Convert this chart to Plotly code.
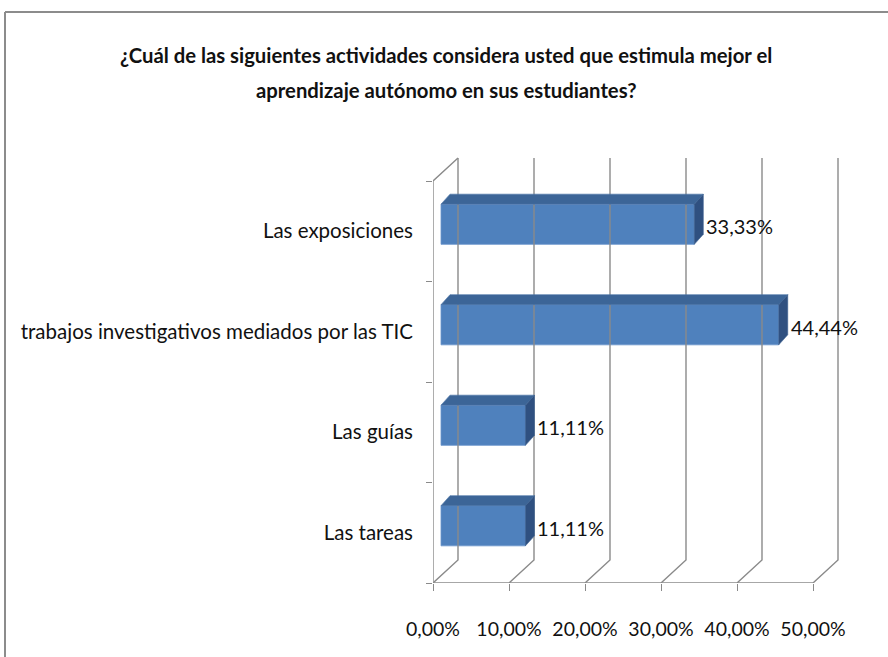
import plotly.graph_objects as go

# ---- data ----
categories = ["Las tareas", "Las guías", "trabajos investigativos mediados por las TIC", "Las exposiciones"]
values = [0.1111, 0.1111, 0.4444, 0.3333]
x_ticks = [0.0, 0.1, 0.2, 0.3, 0.4, 0.5]
title_lines = ["¿Cuál de las siguientes actividades considera usted que estimula mejor el",
               "aprendizaje autónomo en sus estudiantes?"]

# ---- layout constants (pixels) ----
W, H = 888, 657
FX0, FX1 = 433, 813          # front plane x pixels for 0 and 0.5
FY_BOT, FY_TOP = 583, 181    # front plane y pixels
PXX = (FX1 - FX0) / 0.5      # px per unit x
PXY = (FY_BOT - FY_TOP) / 4  # px per category
DX, DY = 25 / PXX, 23 / PXY  # depth of the wall
OX, OY = 8 / PXX, 7 / PXY    # bar front offset
BX, BY = 9 / PXX, 10 / PXY   # bar depth
BW = 0.4
XMAX = 0.56
YMAX = 3.8

FONT = "Lato, sans-serif"
GRID = "#8a8a8a"

ypos = list(range(len(categories)))

fig = go.Figure()

# wall / floor / grid lines
gx, gy = [], []
for v in x_ticks:
    gx += [v, v + DX, v + DX, None]
    gy += [-0.5, -0.5 + DY, 3.5 + DY, None]
gx += [x_ticks[0], x_ticks[-1], None]
gy += [-0.5, -0.5, None]
gx += [0, 0, DX, None]
gy += [-0.5, 3.5, 3.5 + DY, None]
fig.add_trace(go.Scatter(x=gx, y=gy, mode="lines", line=dict(color=GRID, width=1.4),
                         hoverinfo="skip", showlegend=False))

# bar front faces
fig.add_trace(go.Bar(x=values, y=[p + OY for p in ypos], base=[OX] * len(values),
                     orientation="h", width=BW,
                     marker=dict(color="#4F81BD", line=dict(color="#6A95CB", width=0.8)),
                     showlegend=False, hoverinfo="skip"))

# top and side faces
for p, v in zip(ypos, values):
    yc = p + OY
    top_x = [OX, OX + v, OX + v + BX, OX + BX, OX]
    top_y = [yc + BW / 2, yc + BW / 2, yc + BW / 2 + BY, yc + BW / 2 + BY, yc + BW / 2]
    fig.add_trace(go.Scatter(x=top_x, y=top_y, fill="toself", fillcolor="#3C6597",
                             mode="lines", line=dict(color="#4A74A8", width=0.6),
                             hoverinfo="skip", showlegend=False))
    side_x = [OX + v, OX + v, OX + v + BX, OX + v + BX, OX + v]
    side_y = [yc - BW / 2, yc + BW / 2, yc + BW / 2 + BY, yc - BW / 2 + BY, yc - BW / 2]
    fig.add_trace(go.Scatter(x=side_x, y=side_y, fill="toself", fillcolor="#2F5080",
                             mode="lines", line=dict(color="#3A5F8E", width=0.6),
                             hoverinfo="skip", showlegend=False))

annotations = []
for p, v in zip(ypos, values):
    annotations.append(dict(x=OX + v + BX, y=p + OY, xref="x", yref="y",
                            text=f"{v*100:.2f}%".replace(".", ","), showarrow=False,
                            xanchor="left", yanchor="middle", xshift=1, yshift=-2,
                            font=dict(family=FONT, size=20, color="#111111")))
for i, t in enumerate(title_lines):
    annotations.append(dict(x=446 / W, y=1 - (55 + 35 * i) / H, xref="paper", yref="paper",
                            text=f"<b>{t}</b>", showarrow=False, xanchor="center", yanchor="middle",
                            font=dict(family=FONT, size=20.3, color="#111111")))

fig.update_layout(
    width=W, height=H,
    margin=dict(l=0, r=0, t=0, b=0, autoexpand=False),
    paper_bgcolor="white", plot_bgcolor="rgba(0,0,0,0)",
    separators=",.",
    annotations=annotations,
    xaxis=dict(domain=[FX0 / W, (FX0 + XMAX * PXX) / W], range=[0, XMAX], automargin=False,
               tickvals=x_ticks, tickformat=".2%", showgrid=False, zeroline=False,
               showline=False, ticks="outside", ticklen=7, tickcolor=GRID, tickwidth=1.4,
               ticklabelstandoff=22,
               tickfont=dict(family=FONT, size=19.5, color="#111111")),
    yaxis=dict(domain=[(H - FY_BOT) / H, (H - (FY_BOT - (YMAX + 0.5) * PXY)) / H],
               range=[-0.5, YMAX], tickvals=ypos, ticktext=categories, automargin=False,
               showgrid=False, zeroline=False, showline=False, ticks="", ticklabelstandoff=19,
               minor=dict(tickvals=[-0.5, 0.5, 1.5, 2.5, 3.5], ticks="outside", ticklen=6,
                          tickcolor=GRID, tickwidth=1.4),
               tickfont=dict(family=FONT, size=20.5, color="#111111")),
    shapes=[
        dict(type="line", xref="paper", yref="paper", x0=5 / W, x1=1.01, y0=1 - 12 / H, y1=1 - 12 / H,
             line=dict(color="#8c8c8c", width=2)),
        dict(type="line", xref="paper", yref="paper", x0=5 / W, x1=5 / W, y0=1 - 12 / H, y1=-0.01,
             line=dict(color="#8c8c8c", width=2)),
    ],
)

fig.write_html("out.html", config={"displayModeBar": False},
               post_script="document.body.style.margin='0';")
